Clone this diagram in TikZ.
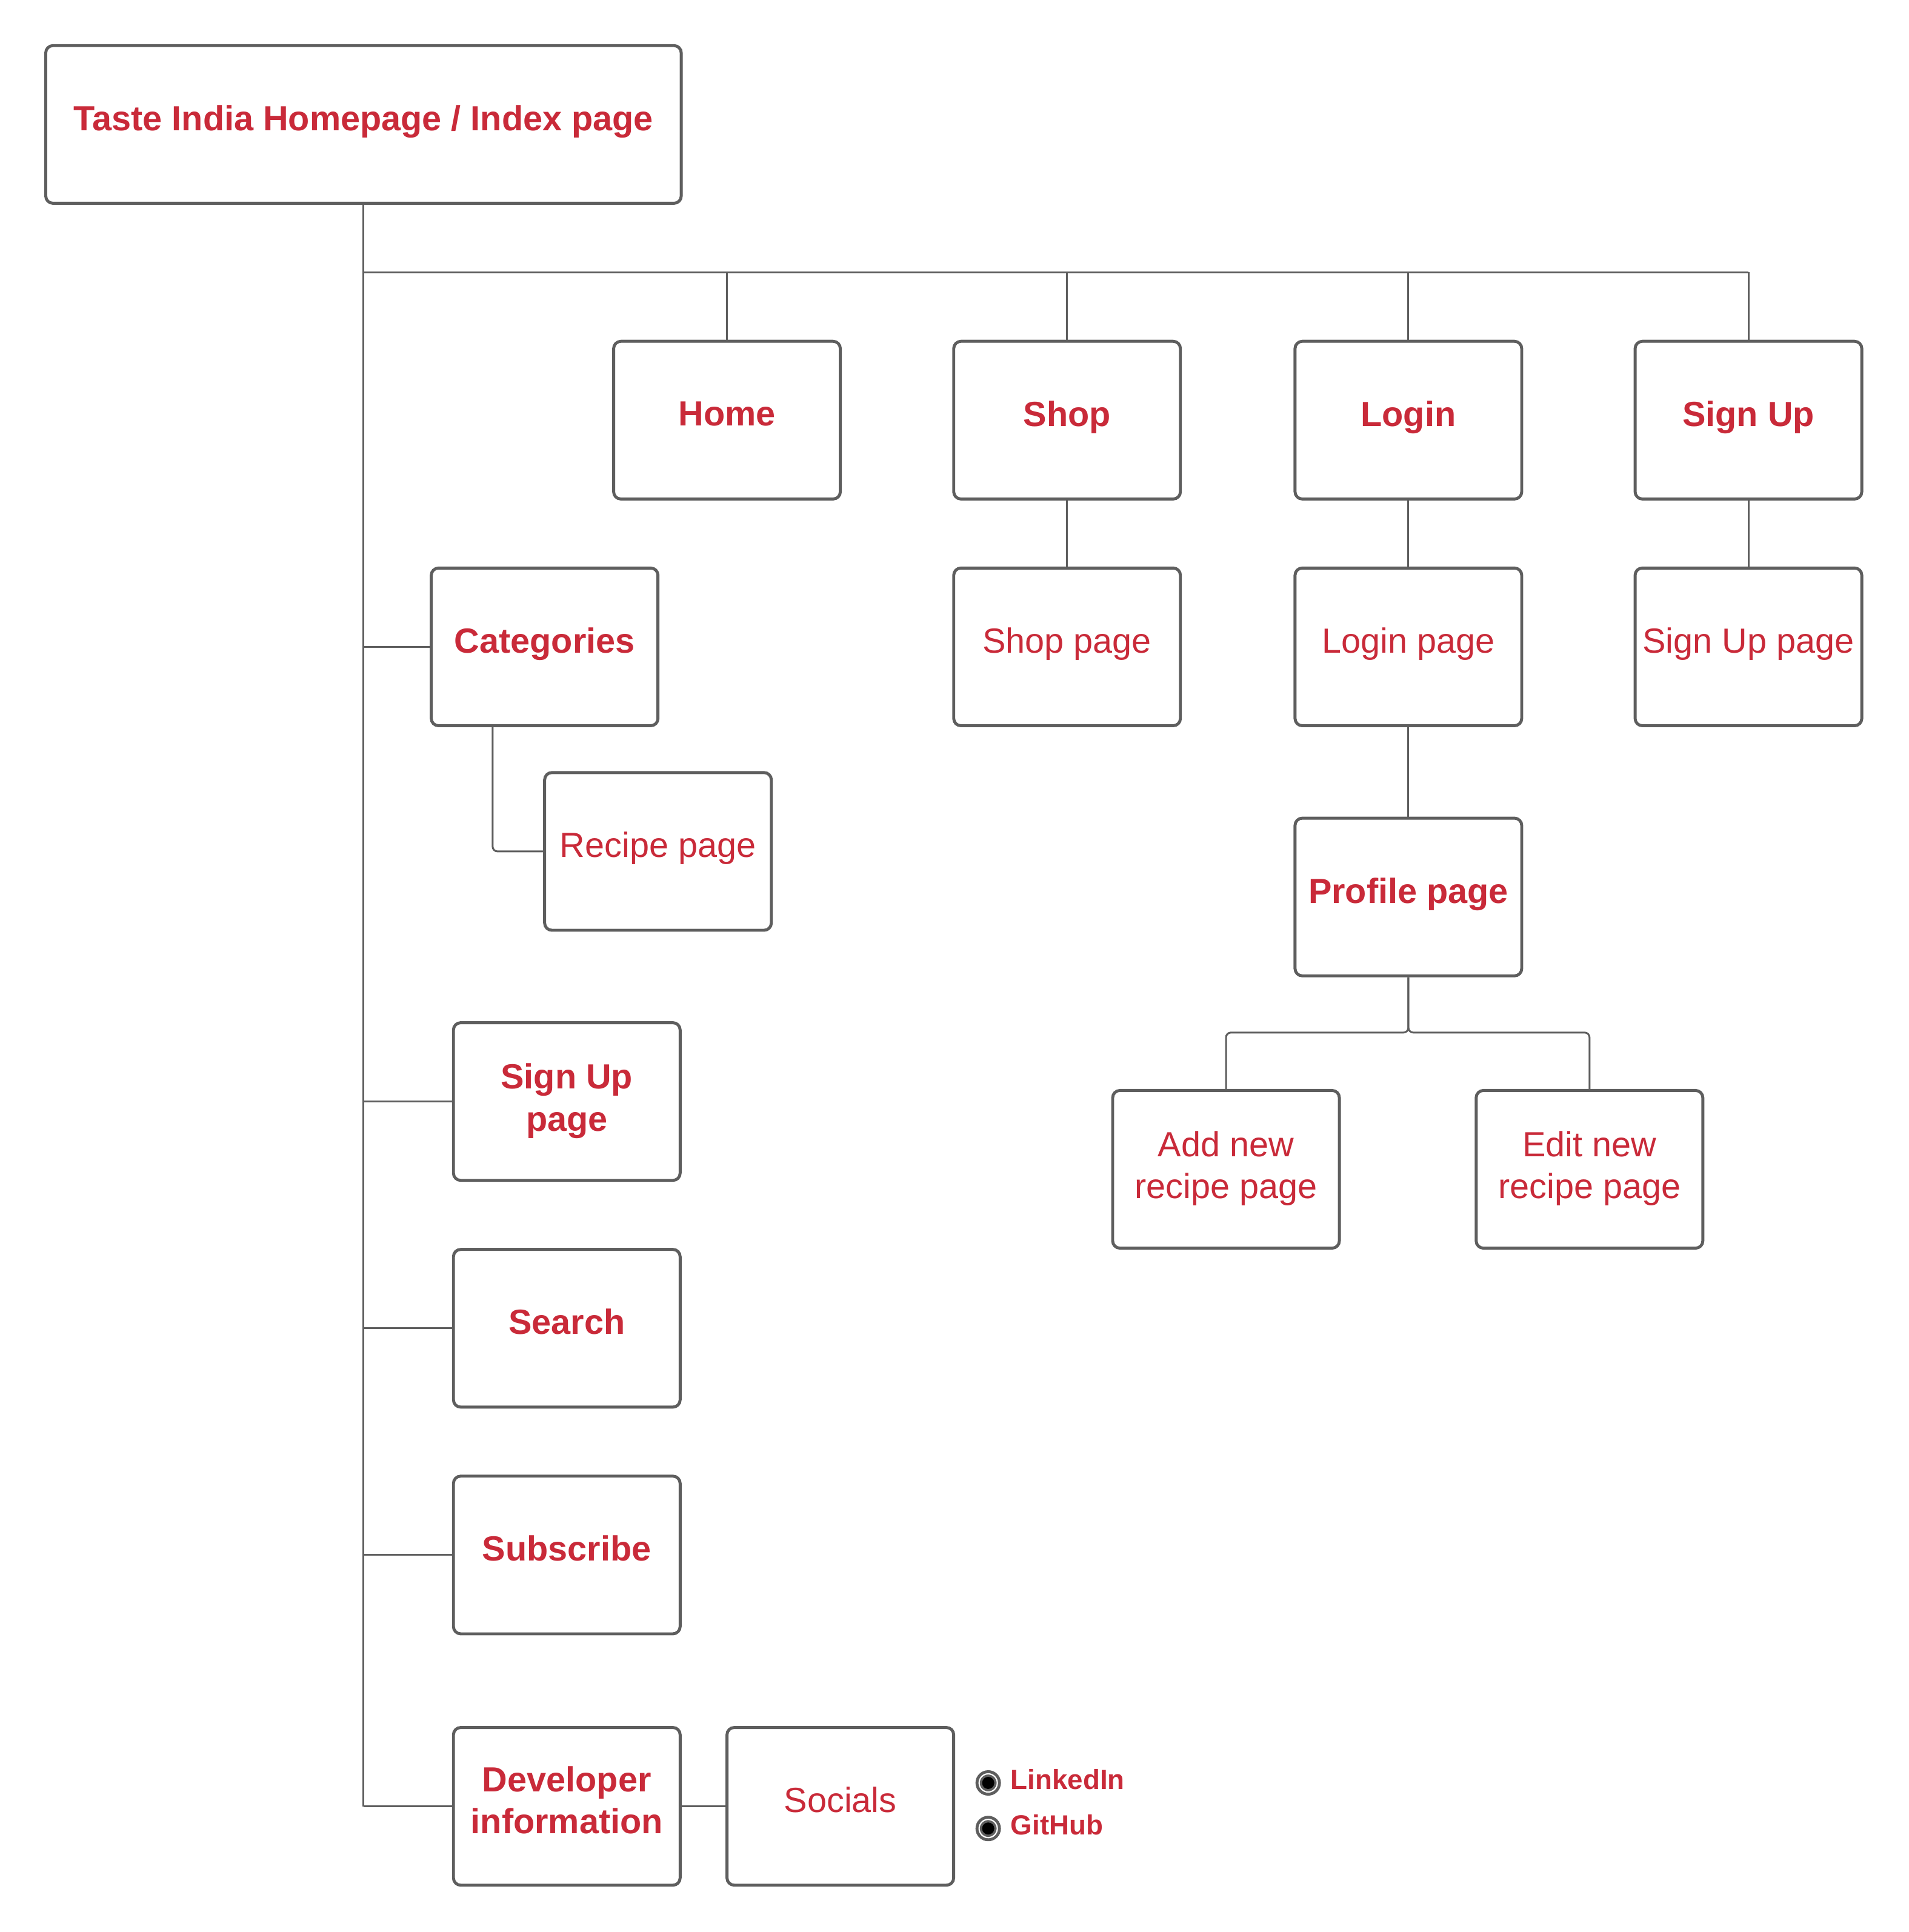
\documentclass[tikz,border=0pt]{standalone}
\usepackage{fontspec}
\setmainfont{Liberation Sans}
\usetikzlibrary{positioning,calc}

\definecolor{sitered}{RGB}{201,42,57}
\definecolor{boxgray}{RGB}{94,94,94}

\tikzset{
  pagebox/.style={draw=boxgray, line width=1.4pt, rounded corners=3.4pt, fill=white,
    minimum width=3.742cm, minimum height=2.603cm, align=center, inner sep=1pt,
    text depth=6.2pt, text=sitered, font=\fontsize{16.4}{19.7}\selectfont},
  mainbox/.style={pagebox, font=\bfseries\fontsize{16.4}{19.7}\selectfont},
  wire/.style={draw=boxgray, line width=0.85pt},
  elbow/.style={wire, rounded corners=2.3pt},
  sociallabel/.style={anchor=west, inner sep=0pt, text=sitered,
    font=\bfseries\fontsize{13}{15.6}\selectfont},
}

\begin{document}
\begin{tikzpicture}[x=0.020336cm, y=-0.020336cm]
        \useasboundingbox (0,0) rectangle (1549,1568);

        % Root page
        \node[mainbox, minimum width=10.49cm] (root) at (295,101) {Taste India Homepage / Index page};

        % Top menu
        \node[mainbox] (home) at (590,341) {Home};
        \node[mainbox] (shop) at (866,341) {Shop};
        \node[mainbox] (login) at (1143,341) {Login};
        \node[mainbox] (signup) at (1419,341) {Sign Up};

        % Pages under the menu
        \node[pagebox] (shoppage) at (866,525) {Shop page};
        \node[pagebox] (loginpage) at (1143,525) {Login page};
        \node[pagebox] (signuppage) at (1419,525) {Sign Up page};
        \node[mainbox] (profile) at (1143,728) {Profile page};
        \node[pagebox, text depth=4pt] (addrecipe) at (995,949) {Add new\\recipe page};
        \node[pagebox, text depth=4pt] (editrecipe) at (1290,949) {Edit new\\recipe page};

        % Sections of the homepage
        \node[mainbox] (categories) at (442,525) {Categories};
        \node[pagebox] (recipe) at (534,691) {Recipe page};
        \node[mainbox, text depth=4pt] (signupsec) at (460,894) {Sign Up\\page};
        \node[mainbox] (search) at (460,1078) {Search};
        \node[mainbox] (subscribe) at (460,1262) {Subscribe};
        \node[mainbox] (developer) at (460,1466) {Developer\\information};
        \node[pagebox] (socials) at (682,1466) {Socials};

        % Menu bus
        \coordinate (bus) at (295,221);
        \draw[wire] (bus) -- (bus -| signup.north);
        \foreach \item in {home,shop,login,signup} {
            \draw[wire] (\item.north |- bus) -- (\item.north);
        }
        \draw[wire] (shop.south) -- (shoppage.north);
        \draw[wire] (login.south) -- (loginpage.north);
        \draw[wire] (signup.south) -- (signuppage.north);
        \draw[wire] (loginpage.south) -- (profile.north);

        % Profile branches
        \coordinate (split) at (1143,838);
        \draw[elbow] (profile.south) -- (split) -| (addrecipe.north);
        \draw[elbow] (profile.south) -- (split) -| (editrecipe.north);

        % Trunk and side branches
        \draw[wire] (root.south) -- (root.south |- developer.west);
        \foreach \item in {categories,signupsec,search,subscribe,developer} {
            \draw[wire] (root.south |- \item.west) -- (\item.west);
        }
        \draw[elbow] ($(categories.south west)+(51,0)$) |- (recipe.west);
        \draw[wire] (developer.east) -- (socials.west);

        % Social links
        \foreach \name/\yy in {LinkedIn/1447,GitHub/1484} {
            \fill[boxgray] (802,\yy) circle (0.21cm);
            \draw[white, line width=0.6pt] (802,\yy) circle (0.15cm);
            \fill[black] (802,\yy) circle (0.1cm);
            \node[sociallabel] (\name) at (820,\yy-3) {\name};
        }
\end{tikzpicture}
\end{document}
